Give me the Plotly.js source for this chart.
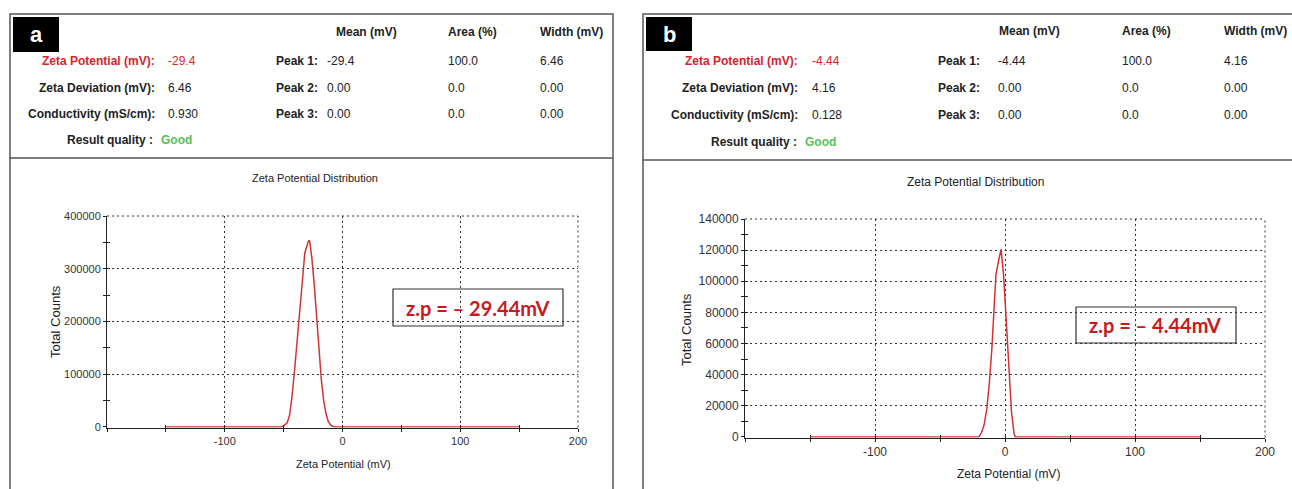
<!DOCTYPE html>
<html><head><meta charset="utf-8">
<script src="https://cdn.plot.ly/plotly-3.0.1.min.js"></script>
<style>html,body{margin:0;padding:0;background:#fff}#chart{width:1292px;height:489px}</style>
</head><body><div id="chart"></div>
<script>
// Panel a data (zeta potential, mV vs total counts)
const zetaA = [-150, -52, -50, -47, -45, -43, -41, -39, -37, -35, -33, -32, -30, -29, -28, -26, -24, -22, -20, -18, -16, -14, -12, -10, -8, -6, 150];
const countsA = [0, 0, 2000, 8000, 22000, 55000, 100000, 150000, 200000, 260000, 310000, 330000, 345000, 352000, 354000, 320000, 270000, 205000, 145000, 90000, 50000, 25000, 10000, 3500, 1000, 0, 0];
// Panel b data
const zetaB = [-150, -20, -18, -16, -14, -12, -10, -8, -7, -5, -3, -1, 1, 3, 5, 7, 8, 150];
const countsB = [0, 0, 3000, 8000, 18000, 35000, 58000, 86000, 104000, 113000, 120500, 103000, 75000, 45000, 16000, 2000, 0, 0];

// Axis tick labels
const xTickVals = [-100, 0, 100, 200];
const xTickText = ["-100", "0", "100", "200"];

// Result tables
const rowLabels = ["Zeta Potential (mV):", "Zeta Deviation (mV):", "Conductivity (mS/cm):"];
const peakLabels = ["Peak 1:", "Peak 2:", "Peak 3:"];
const colHeaders = ["Mean (mV)", "Area (%)", "Width (mV)"];
const rowValuesA = ["-29.4", "6.46", "0.930"];
const rowValuesB = ["-4.44", "4.16", "0.128"];
const peakMeanA = ["-29.4", "0.00", "0.00"];
const peakAreaA = ["100.0", "0.0", "0.0"];
const peakWidthA = ["6.46", "0.00", "0.00"];
const peakMeanB = ["-4.44", "0.00", "0.00"];
const peakAreaB = ["100.0", "0.0", "0.0"];
const peakWidthB = ["4.16", "0.00", "0.00"];
const quality = "Good";
const panelLabels = ["a", "b"];
const zpLabels = ["z.p = – 29.44mV", "z.p = – 4.44mV"];
const chartTitle = "Zeta Potential Distribution";
const xTitle = "Zeta Potential (mV)";
const yTitle = "Total Counts";

const W = 1292, H = 489;
const px = v => v / W, py = v => 1 - v / H;
const FONT = "Liberation Sans, Arial, sans-serif";
const RED = "rgb(215,35,45)";
const GREEN = "rgb(90,190,90)";
const TXT = "#222";

const lineColor = "rgb(210,50,50)";
const traces = [
  {x: zetaA, y: countsA, type: "scatter", mode: "lines", line: {color: lineColor, width: 1.5}, xaxis: "x", yaxis: "y", hoverinfo: "skip"},
  {x: zetaB, y: countsB, type: "scatter", mode: "lines", line: {color: lineColor, width: 1.5}, xaxis: "x2", yaxis: "y2", hoverinfo: "skip"},
  // empty traces that only carry the overlay axes drawing the inner halves of the "+" ticks
  {x: [], y: [], type: "scatter", mode: "lines", xaxis: "x3", yaxis: "y3", hoverinfo: "skip"},
  {x: [], y: [], type: "scatter", mode: "lines", xaxis: "x4", yaxis: "y4", hoverinfo: "skip"}
];

const DASH = "2px,3px";
const TICKC = "#222";
function baseAx(fs) {
  return {showgrid: true, gridcolor: "#333", gridwidth: 1, griddash: DASH, zeroline: false,
    showline: true, linecolor: "#222", linewidth: 1, layer: "below traces",
    tickfont: {family: FONT, size: fs, color: "#333"}, ticks: "outside", ticklen: 3, tickcolor: TICKC, tickwidth: 1,
    fixedrange: true};
}
function xAx(domain, anchor, fs) {
  return Object.assign(baseAx(fs), {domain: domain, anchor: anchor, range: [-200, 200],
    tickmode: "array", tickvals: xTickVals, ticktext: xTickText,
    minor: {tickmode: "linear", dtick: 50, tick0: 0, ticks: "outside", ticklen: 3, tickcolor: TICKC, showgrid: false}});
}
function yAx(domain, anchor, rng, dt, mdt, fs) {
  return Object.assign(baseAx(fs), {domain: domain, anchor: anchor, range: rng, dtick: dt, tick0: 0, tickformat: "d",
    minor: {dtick: mdt, tick0: 0, ticks: "outside", ticklen: 3, tickcolor: TICKC, showgrid: false}});
}
function tickAx(over, anchor, domain, rng, dt) {
  return {overlaying: over, anchor: anchor, domain: domain, range: rng, dtick: dt, tick0: 0, ticks: "inside", ticklen: 3,
    tickcolor: TICKC, tickwidth: 1, showticklabels: false, showgrid: false, zeroline: false, showline: false, fixedrange: true};
}

const domXA = [px(107), px(578)], domYA = [py(427.5), py(216)];
const domXB = [px(745), px(1265)], domYB = [py(437.5), py(219)];
const rngX = [-200, 200];
const rngA = [-1000, 400000], rngB = [-350, 140000];

const ann = [];
function t(x, y, text, opts) {
  ann.push(Object.assign({xref: "paper", yref: "paper", x: px(x), y: py(y), text: text, showarrow: false,
    xanchor: "left", yanchor: "middle", font: {family: FONT, size: 12, color: TXT}}, opts || {}));
}
const bold = s => "<b>" + s + "</b>";

function table(o) {
  colHeaders.forEach((h, i) => t(o.colX[i], o.headY, bold(h)));
  rowLabels.forEach((l, i) => {
    const isRed = i === 0;
    t(o.labRight, o.rowY[i], bold(l), {xanchor: "right", font: {family: FONT, size: 12, color: isRed ? RED : TXT}});
    t(o.valX, o.rowY[i], o.vals[i], {font: {family: FONT, size: 12, color: isRed ? RED : TXT}});
  });
  peakLabels.forEach((l, i) => {
    t(o.peakRight, o.rowY[i], bold(l), {xanchor: "right"});
    t(o.meanX, o.rowY[i], o.mean[i]);
    t(o.colX[1], o.rowY[i], o.area[i]);
    t(o.colX[2], o.rowY[i], o.width[i]);
  });
  t(o.rqRight, o.rqY, bold("Result quality :"), {xanchor: "right"});
  t(o.rqRight + 4, o.rqY, bold(quality), {font: {family: FONT, size: 12, color: GREEN}});
}
table({colX: [334, 446, 538], headY: 32, rowY: [61, 88, 114], labRight: 157, valX: 166, vals: rowValuesA,
  peakRight: 320, meanX: 325, mean: peakMeanA, area: peakAreaA, width: peakWidthA, rqRight: 155, rqY: 140});
table({colX: [997, 1120, 1222], headY: 31, rowY: [61, 88, 115], labRight: 800, valX: 810, vals: rowValuesB,
  peakRight: 982, meanX: 996, mean: peakMeanB, area: peakAreaB, width: peakWidthB, rqRight: 799, rqY: 142});

// panel letters
t(36, 35, bold(panelLabels[0]), {xanchor: "center", font: {family: FONT, size: 22, color: "#fff"}});
t(669, 34, bold(panelLabels[1]), {xanchor: "center", font: {family: FONT, size: 22, color: "#fff"}});

// chart titles
t(315, 178, chartTitle, {xanchor: "center", font: {family: FONT, size: 11, color: TXT}});
t(975, 182, chartTitle, {xanchor: "center", font: {family: FONT, size: 12, color: TXT}});
t(343, 464, xTitle, {xanchor: "center", font: {family: FONT, size: 11, color: TXT}});
t(1008, 474, xTitle, {xanchor: "center", font: {family: FONT, size: 12, color: TXT}});
t(55, 322, yTitle, {xanchor: "center", textangle: -90, font: {family: FONT, size: 13, color: TXT}});
t(686, 330, yTitle, {xanchor: "center", textangle: -90, font: {family: FONT, size: 13, color: TXT}});

// z.p labels
const ZPFONT = {family: "Lato, Open Sans, sans-serif", size: 20, color: "rgb(200,25,30)"};
t(478, 308, bold(zpLabels[0]), {xanchor: "center", font: ZPFONT});
t(1155, 325, bold(zpLabels[1]), {xanchor: "center", font: ZPFONT});

const frame = {color: "#555", width: 1.5};
const gridEdge = {color: "#333", width: 1, dash: DASH};
const shapes = [
  {type: "rect", xref: "paper", yref: "paper", x0: px(10), x1: px(613), y0: py(492), y1: py(14), line: frame},
  {type: "line", xref: "paper", yref: "paper", x0: px(10), x1: px(613), y0: py(158), y1: py(158), line: frame},
  {type: "rect", xref: "paper", yref: "paper", x0: px(643), x1: px(1296), y0: py(492), y1: py(14), line: frame},
  {type: "line", xref: "paper", yref: "paper", x0: px(643), x1: px(1292), y0: py(160), y1: py(160), line: frame},
  {type: "rect", xref: "paper", yref: "paper", x0: px(13), x1: px(59), y0: py(52), y1: py(17), fillcolor: "#000", line: {width: 0}},
  {type: "rect", xref: "paper", yref: "paper", x0: px(646), x1: px(692), y0: py(51), y1: py(17), fillcolor: "#000", line: {width: 0}},
  {type: "rect", xref: "paper", yref: "paper", x0: px(393), x1: px(563), y0: py(326), y1: py(289), line: {color: "#333", width: 1.2}},
  {type: "rect", xref: "paper", yref: "paper", x0: px(1076), x1: px(1236), y0: py(343), y1: py(307), line: {color: "#333", width: 1.2}},
  // dotted edge grid lines at top and right of each plot
  {type: "line", xref: "x domain", yref: "y domain", x0: 0, x1: 1, y0: 1, y1: 1, line: gridEdge, layer: "below"},
  {type: "line", xref: "x domain", yref: "y domain", x0: 1, x1: 1, y0: 0, y1: 1, line: gridEdge, layer: "below"},
  {type: "line", xref: "x2 domain", yref: "y2 domain", x0: 0, x1: 1, y0: 1, y1: 1, line: gridEdge, layer: "below"},
  {type: "line", xref: "x2 domain", yref: "y2 domain", x0: 1, x1: 1, y0: 0, y1: 1, line: gridEdge, layer: "below"}
];

const layout = {
  width: W, height: H, margin: {l: 0, r: 0, t: 0, b: 0}, showlegend: false,
  paper_bgcolor: "#fff", plot_bgcolor: "rgba(0,0,0,0)",
  xaxis: xAx(domXA, "y", 11), yaxis: yAx(domYA, "x", rngA, 100000, 50000, 11),
  xaxis2: xAx(domXB, "y2", 12), yaxis2: yAx(domYB, "x2", rngB, 20000, 10000, 12),
  xaxis3: tickAx("x", "y3", domXA, rngX, 50), yaxis3: tickAx("y", "x3", domYA, rngA, 50000),
  xaxis4: tickAx("x2", "y4", domXB, rngX, 50), yaxis4: tickAx("y2", "x4", domYB, rngB, 10000),
  annotations: ann, shapes: shapes
};
Plotly.newPlot("chart", traces, layout, {staticPlot: true, displayModeBar: false});
</script></body></html>
